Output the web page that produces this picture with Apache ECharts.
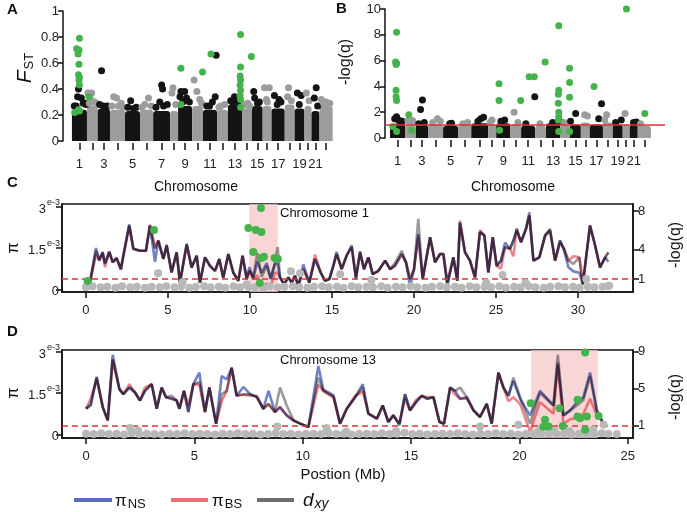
<!DOCTYPE html>
<html><head><meta charset="utf-8">
<script src="https://cdn.jsdelivr.net/npm/echarts@6/dist/echarts.min.js"></script>
<style>html,body{margin:0;padding:0;background:#fff}#c{width:687px;height:512px}</style>
</head><body><div id="c"></div>
<script>
// ===== Panels A & B : genome-wide scan =====
const chromosomes = [1,2,3,4,5,6,7,8,9,10,11,12,13,14,15,16,17,18,19,20,21,22];
const chromLengthMb = [32,23,26,32,32,28,36,17,30,23,30,23,30,21,23,19,28,21,21,15,17,28];
const chromTickLabels = ['1','3','5','7','9','11','13','15','17','19','21'];

// dense core of non-significant windows (height of the cloud) per chromosome
const fstBody = [0.24,0.27,0.25,0.24,0.23,0.24,0.23,0.23,0.27,0.27,0.24,0.24,0.28,0.25,0.27,0.27,0.25,0.28,0.25,0.27,0.23,0.27];
const lqBody  = [1.10,1.00,1.00,1.05,0.95,1.00,1.15,1.05,1.15,1.05,0.95,0.95,1.15,1.05,1.05,1.20,1.05,1.20,1.05,1.05,1.05,0.95];

// [chromosome, position within chromosome (Mb), value]
const fstPoints = [
 [1,14,0.40],[1,12,0.34],[1,20,0.33],[1,28,0.29],[1,30,0.28],[1,5,0.27],[1,24,0.29],[1,9,0.27],
 [2,2,0.37],[2,10,0.37],[2,8,0.32],[2,16,0.30],[2,20,0.29],[2,5,0.29],
 [3,8,0.54],[3,4,0.28],[3,12,0.27],[3,20,0.27],[3,16,0.26],
 [4,8,0.34],[4,14,0.33],[4,24,0.29],[4,4,0.27],[4,18,0.27],[4,28,0.26],
 [5,12,0.31],[5,24,0.26],[5,6,0.26],[5,18,0.25],
 [6,18,0.33],[6,10,0.28],[6,24,0.27],[6,4,0.26],
 [7,18,0.43],[7,20,0.40],[7,14,0.30],[7,22,0.27],[7,30,0.28],[7,6,0.26],
 [8,6,0.41],[8,4,0.37],[8,12,0.28],
 [9,6,0.38],[9,14,0.38],[9,18,0.33],[9,4,0.34],[9,24,0.30],[9,10,0.30],
 [10,4,0.47],[10,10,0.38],[10,16,0.32],[10,20,0.29],
 [11,28,0.66],[11,26,0.34],[11,20,0.30],[11,8,0.27],[11,14,0.27],
 [12,8,0.27],[12,16,0.28],[12,4,0.26],
 [13,14,0.34],[13,6,0.31],[13,22,0.30],[13,10,0.30],
 [14,12,0.29],[14,6,0.28],[14,16,0.27],
 [15,4,0.38],[15,6,0.33],[15,16,0.30],[15,12,0.29],
 [16,4,0.41],[16,14,0.41],[16,8,0.32],[16,10,0.30],
 [17,6,0.35],[17,16,0.32],[17,20,0.30],[17,12,0.28],
 [18,8,0.41],[18,6,0.34],[18,14,0.31],
 [19,6,0.37],[19,14,0.35],[19,10,0.28],
 [20,4,0.37],[20,10,0.31],
 [21,10,0.41],[21,6,0.33],[21,13,0.27],
 [22,4,0.32],[22,14,0.30],[22,22,0.29],[22,9,0.29]
];
const fstSignificant = [
 [1,16,0.79],[1,10,0.71],[1,15,0.70],[1,13,0.67],[1,15,0.59],[1,14,0.51],[1,16,0.49],[1,15,0.47],[1,16,0.43],[1,6,0.22],[1,14,0.24],[1,16,0.23],
 [2,4,0.34],[9,6,0.56],[9,6,0.28],[10,22,0.53],[11,17,0.67],
 [13,27,0.82],[13,27,0.57],[13,26,0.50],[13,27,0.47],[13,26,0.43],[13,27,0.39],[13,26,0.35],[13,27,0.32],[13,27,0.26],
 [14,20,0.65]
];
const lqPoints = [
 [1,10,1.5],[1,14,1.65],[1,18,1.4],[1,26,1.3],[1,22,1.2],
 [2,6,1.35],[2,14,1.2],[2,16,1.35],
 [3,14,2.95],[3,10,2.2],[3,18,1.2],[3,6,1.1],
 [4,20,1.5],[4,10,1.2],[4,26,1.3],
 [5,18,1.15],[5,14,1.1],
 [6,20,1.2],[6,10,1.1],
 [7,20,1.5],[7,26,1.6],[7,14,1.3],
 [8,8,1.4],[8,4,1.2],
 [9,10,1.3],[9,18,1.4],
 [10,8,2.0],[10,16,1.2],
 [11,29,3.2],[11,10,1.1],
 [12,10,1.1],
 [13,29,1.3],[13,14,1.2],
 [14,8,1.2],
 [15,1,1.3],[15,12,1.9],
 [16,8,1.8],[16,14,1.7],
 [17,25,2.65],[17,19,1.5],
 [18,8,1.8],[18,4,1.4],
 [19,6,1.2],[19,18,1.4],
 [20,5,1.9],
 [21,8,1.2],[21,14,1.25],
 [22,6,1.1]
];
const lqSignificant = [
 [1,14,8.2],[1,12,5.9],[1,14,5.8],[1,13,5.7],[1,13,3.7],[1,13,3.2],[1,14,2.9],[1,6,0.9],[1,14,0.5],
 [2,8,1.8],[2,14,0.6],
 [9,6,4.2],[9,6,2.9],[9,7,0.6],
 [10,22,2.9],
 [11,17,4.75],[11,28,4.75],
 [12,21,5.9],
 [13,27,8.7],[13,27,3.7],[13,26,3.4],[13,26,2.7],[13,27,2.0],[13,27,1.65],[13,26,1.4],[13,27,0.5],
 [14,20,5.4],[14,20,4.3],[14,20,3.15],[14,20,0.5],
 [17,9,4.0],
 [20,8,10.0],
 [22,15,1.9]
];
const qThresholdAB = 1;

// ===== Panel C : chromosome 1 =====
const posC = [0.04,0.24,0.61,0.81,1.02,1.16,1.42,1.63,1.87,2.13,
 2.28,2.64,2.89,3.29,3.66,3.90,4.21,4.41,4.72,4.92,
 5.22,5.53,5.73,6.14,6.44,6.75,6.95,7.26,7.56,7.87,
 8.13,8.37,8.68,8.98,9.29,9.55,9.80,9.96,10.20,10.45,
 10.71,11.02,11.26,11.52,11.69,11.83,12.07,12.34,12.54,12.74,
 12.95,13.25,13.62,13.96,14.31,14.57,14.84,15.08,15.28,15.59,
 15.89,16.20,16.46,16.71,16.95,17.22,17.48,17.83,18.24,18.54,
 18.84,19.25,19.51,19.76,20.00,20.26,20.53,20.98,21.28,21.59,
 21.79,22.03,22.40,22.64,22.80,23.11,23.41,23.72,24.02,24.29,
 24.53,24.80,25.04,25.30,25.55,25.85,26.06,26.26,26.52,26.83,
 27.03,27.28,27.64,27.99,28.29,28.60,28.90,29.15,29.41,29.72,
 30.08,30.29,30.73,31.04,31.34,31.65,31.85];
// values in units of 1e-3
const dxyC = [0.31,0.24,1.40,1.10,1.30,0.95,1.35,1.00,1.12,0.73,
 1.22,2.32,1.47,1.40,1.40,2.34,1.47,1.77,1.10,1.59,
 0.61,1.34,0.24,1.65,0.79,1.22,0.24,1.16,0.85,0.67,
 1.10,0.43,1.28,0.61,0.31,1.22,0.37,0.67,0.45,1.32,
 0.45,0.85,0.37,0.98,1.53,0.43,0.18,0.43,0.24,0.49,
 0.12,0.73,0.24,1.10,0.61,0.31,0.37,0.85,1.28,0.73,
 1.22,1.53,0.43,1.34,0.73,1.16,0.55,0.67,1.04,0.73,
 0.95,1.40,0.98,0.37,0.73,2.56,0.37,1.89,0.98,1.28,
 1.28,0.24,1.16,0.31,2.44,1.34,1.04,0.43,2.08,1.95,
 0.61,1.89,0.85,1.04,1.53,1.47,1.77,2.20,1.71,2.20,
 2.69,1.04,1.16,1.95,2.20,1.04,1.77,1.47,1.04,0.92,
 1.16,0.18,2.32,1.59,0.79,1.16,1.34];
const piNS_C = [0.31,0.24,1.50,1.04,1.36,0.92,1.37,0.98,1.15,0.73,
 1.22,2.36,1.47,1.40,1.40,2.30,1.00,1.77,1.10,1.62,
 0.61,1.34,0.22,1.65,0.79,1.22,0.24,1.16,0.85,0.67,
 1.10,0.40,1.28,0.61,0.31,1.22,0.37,0.80,0.40,1.00,
 0.60,0.95,0.40,0.90,0.95,0.43,0.18,0.43,0.24,0.49,
 0.12,0.90,0.24,1.10,0.61,0.31,0.37,0.85,1.36,0.73,
 1.22,1.60,0.35,1.38,0.73,1.16,0.55,0.67,1.04,0.73,
 0.85,1.28,0.98,0.10,0.73,2.00,0.37,1.89,0.98,1.28,
 1.28,0.10,1.16,0.31,2.40,1.34,1.04,0.43,2.08,1.95,
 0.61,1.89,0.85,1.04,1.70,1.47,1.77,2.14,1.71,2.20,
 2.80,1.04,1.16,1.95,2.14,1.04,1.77,1.40,0.80,0.65,
 0.60,0.18,2.32,1.59,0.79,1.16,1.00];
const piBS_C = [0.31,0.24,1.25,1.04,1.34,0.80,1.37,0.98,1.12,0.73,
 1.22,2.30,1.47,1.40,1.40,2.34,1.50,1.77,1.10,1.59,
 0.61,1.34,0.24,1.60,0.79,1.22,0.24,1.16,0.85,0.67,
 1.10,0.43,1.28,0.61,0.31,1.22,0.37,0.67,0.37,0.50,
 0.10,0.20,0.10,0.60,0.60,0.43,0.18,0.43,0.24,0.49,
 0.12,0.73,0.24,1.26,0.61,0.31,0.37,0.85,1.28,0.73,
 1.22,1.53,0.43,1.34,0.73,1.16,0.55,0.67,1.04,0.73,
 0.85,1.28,0.98,0.37,0.73,1.90,0.37,1.89,0.98,1.28,
 1.28,0.24,1.16,0.31,2.50,1.34,1.04,0.43,2.15,1.95,
 0.61,1.89,0.85,0.75,1.53,1.47,1.20,2.20,1.71,2.20,
 2.69,1.04,1.16,1.95,2.14,1.04,1.70,1.47,1.04,1.20,
 1.16,0.18,2.32,1.59,0.79,1.16,1.34];
// -log(q) per window: [Mb, value]
const sigC = [[0.1,0.8],[4.15,6.05],[10.67,8.3],[9.9,6.25],[10.35,6.05],[10.7,5.84],[10.2,3.78],[10.7,3.16],[10.85,3.3],[11.5,3.16],[11.7,3.06],[10.6,0.59]];
const nonSigC = [[4.4,1.6],[5.9,0.7],[9.8,0.45],[12.5,1.8],[13.05,1.6],[15.5,1.5],[17.4,0.9],[24.4,0.6],[25.4,1.4],[26.8,0.6],[30.5,1.0],[31.8,0.25],
 [0.0,0.15],[0.4,0.25],[0.9,0.15],[1.3,0.2],[1.8,0.1],[2.2,0.25],[2.7,0.15],[3.1,0.2],[3.6,0.1],[4.0,0.2],[4.5,0.15],[4.9,0.25],[5.4,0.15],[5.8,0.2],
 [6.3,0.1],[6.7,0.2],[7.2,0.25],[7.6,0.15],[8.1,0.2],[8.5,0.1],[9.0,0.25],[9.4,0.15],[9.9,0.2],[10.3,0.15],[10.8,0.1],[11.2,0.25],[11.7,0.15],[12.1,0.2],
 [12.6,0.25],[13.0,0.15],[13.5,0.1],[13.9,0.2],[14.4,0.25],[14.8,0.15],[15.3,0.2],[15.7,0.1],[16.2,0.25],[16.6,0.15],[17.1,0.2],[17.5,0.15],[18.0,0.25],
 [18.4,0.1],[18.9,0.2],[19.3,0.15],[19.8,0.25],[20.2,0.15],[20.7,0.1],[21.1,0.2],[21.6,0.25],[22.0,0.15],[22.5,0.2],[22.9,0.1],[23.4,0.25],[23.8,0.15],
 [24.3,0.2],[24.7,0.15],[25.2,0.25],[25.6,0.1],[26.1,0.2],[26.5,0.15],[27.0,0.25],[27.4,0.15],[27.9,0.1],[28.3,0.2],[28.8,0.25],[29.2,0.15],[29.7,0.2],
 [30.1,0.1],[30.6,0.2],[31.0,0.15],[31.5,0.2],[31.9,0.3]];
const highlightC = [9.95, 11.7];
const posTicksC = [0,5,10,15,20,25,30];

// ===== Panel D : chromosome 13 =====
const posD = [0.00,0.22,0.49,0.77,1.00,1.23,1.54,1.72,2.00,2.26,
 2.49,2.72,3.03,3.26,3.49,3.69,3.95,4.18,4.31,4.52,
 4.72,4.95,5.23,5.49,5.69,6.00,6.26,6.49,6.72,6.95,
 7.26,7.57,7.88,8.18,8.42,8.72,8.95,9.26,9.57,9.88,
 10.26,10.72,10.95,11.42,11.72,12.03,12.42,12.77,13.03,13.42,
 13.69,13.95,14.18,14.46,14.72,14.95,15.23,15.49,15.75,16.03,
 16.31,16.52,16.80,17.03,17.26,17.57,17.88,18.18,18.49,18.72,
 19.03,19.26,19.49,19.72,20.03,20.49,20.95,21.57,21.77,22.03,
 22.34,22.65,22.95,23.26,23.57,23.88];
const dxyD = [0.93,1.11,2.08,0.99,0.51,2.71,1.64,1.46,1.70,1.52,
 1.23,1.58,1.82,0.93,1.70,1.35,1.40,1.23,0.93,1.58,
 0.81,1.82,1.90,0.81,1.70,0.39,1.46,1.58,2.42,1.40,
 1.45,1.46,1.35,0.93,1.10,0.81,1.70,1.05,0.51,0.39,
 0.27,2.06,1.58,1.35,0.39,0.93,1.35,1.70,0.75,0.57,
 1.05,0.45,0.69,0.39,1.46,0.87,1.17,1.40,1.29,1.35,
 0.45,0.39,1.70,1.58,1.70,1.35,0.87,0.63,1.11,0.39,
 2.24,1.70,1.40,2.06,1.35,0.39,1.50,1.05,2.89,0.69,
 0.87,1.05,1.25,2.10,0.87,0.39];
const piNS_D = [0.93,1.05,2.08,0.99,0.51,2.89,1.64,1.46,1.70,1.52,
 1.23,1.58,1.82,0.93,1.70,1.35,1.29,1.23,0.93,1.58,
 0.81,1.82,2.24,0.81,1.70,0.39,2.12,1.99,2.42,1.40,
 1.72,1.46,1.35,0.93,1.58,0.81,0.99,0.69,0.51,0.39,
 0.27,2.48,1.62,1.42,0.39,0.93,1.35,1.82,0.75,0.57,
 1.05,0.45,0.69,0.33,1.46,0.87,1.17,1.40,1.29,1.35,
 0.45,0.39,1.70,1.58,1.29,1.35,0.87,0.63,1.11,0.39,
 2.24,1.70,1.40,1.94,1.29,0.69,1.58,1.05,2.60,0.69,
 0.87,1.17,1.35,2.24,0.87,0.39];
const piBS_D = [0.93,1.30,2.00,0.99,0.51,2.71,1.64,1.46,1.82,1.52,
 1.23,1.70,1.82,0.93,1.70,1.35,1.29,1.23,0.93,1.58,
 1.05,1.82,1.80,0.81,1.70,0.39,1.20,1.58,2.42,1.40,
 1.45,1.40,1.40,0.93,1.10,0.81,0.99,0.69,0.51,0.39,
 0.27,1.80,1.58,1.35,0.39,0.93,1.40,1.55,0.75,0.57,
 1.05,0.45,0.69,0.39,1.30,0.87,1.25,1.40,1.35,1.35,
 0.45,0.39,1.70,1.45,1.29,1.30,0.87,0.63,1.11,0.39,
 2.24,1.70,1.20,1.35,1.10,0.10,1.17,0.75,2.50,0.39,
 0.55,0.60,0.75,1.29,0.70,0.39];
const sigD = [[23.03,8.9],[20.52,3.44],[21.18,1.65],[21.34,0.92],[21.85,2.9],[22.0,0.98],[22.68,3.8],[22.68,2.0],[22.8,1.8],[23.11,2.0],[23.65,2.05],[23.03,0.58],[21.1,0.9]];
const nonSigD = [[2.03,0.75],[2.4,0.5],[8.83,0.93],[11.1,0.75],[18.18,0.93],[19.95,1.1],[23.88,1.1],[24.49,0.1],[20.9,0.4],[21.6,0.5],[22.3,0.4],[23.4,0.6],[14.3,0.4],[12.0,0.35],
 [0.0,0.15],[0.35,0.1],[0.7,0.2],[1.05,0.1],[1.4,0.15],[1.75,0.05],[2.1,0.2],[2.45,0.1],[2.8,0.15],[3.15,0.1],[3.5,0.05],[3.85,0.15],[4.2,0.1],[4.55,0.2],
 [4.9,0.1],[5.25,0.15],[5.6,0.1],[5.95,0.05],[6.3,0.15],[6.65,0.1],[7.0,0.2],[7.35,0.1],[7.7,0.15],[8.05,0.05],[8.4,0.1],[8.75,0.2],[9.1,0.1],[9.45,0.15],
 [9.8,0.05],[10.15,0.1],[10.5,0.15],[10.85,0.1],[11.2,0.2],[11.55,0.1],[11.9,0.15],[12.25,0.05],[12.6,0.1],[12.95,0.15],[13.3,0.1],[13.65,0.2],[14.0,0.1],
 [14.35,0.15],[14.7,0.25],[15.05,0.1],[15.4,0.15],[15.75,0.05],[16.1,0.1],[16.45,0.15],[16.8,0.1],[17.15,0.2],[17.5,0.1],[17.85,0.05],[18.2,0.15],[18.55,0.1],
 [18.9,0.2],[19.25,0.1],[19.6,0.15],[19.95,0.05],[20.3,0.1],[20.65,0.15],[21.0,0.1],[21.35,0.2],[21.7,0.1],[22.05,0.15],[22.4,0.05],[22.75,0.1],[23.1,0.15],
 [23.45,0.1],[23.8,0.2],[24.1,0.15]];
const highlightD = [20.54, 23.61];
const posTicksD = [0,5,10,15,20,25];
const qThresholdCD = 1;

// ===== rendering =====
const FONT = '"Liberation Sans", Arial, sans-serif';
const BLACK = '#141414', GRAY = '#9c9c9c', GREEN = '#45b34c', LIGHTGRAY = '#b8b8b8';
const COL_NS = '#5b6cbc', COL_BS = '#ee6e78', COL_DXY = '#8a8a8a';

const starts = []; let acc = 0;
chromLengthMb.forEach(l => { starts.push(acc); acc += l; });
const centers = starts.map((s, i) => s + chromLengthMb[i] / 2);
const labelCenters = chromTickLabels.map(t => centers[chromosomes.indexOf(+t)]);
const chromFmt = v => { const i = centers.findIndex(c => Math.abs(c - v) < 1e-6); return i >= 0 ? String(chromosomes[i]) : ''; };

const toXY = arr => arr.map(([c, p, v]) => [starts[c - 1] + p, v, c]);
const bodyData = body => chromosomes.map((c, i) => [starts[i], starts[i] + chromLengthMb[i], body[i], c]);
const dotColor = p => (p.data[2] % 2 === 1 ? BLACK : GRAY);
const zip = (xs, ys) => xs.map((x, i) => [x, ys[i]]);

function bodySeries(xi, yi, body) {
  return {
    type: 'custom', xAxisIndex: xi, yAxisIndex: yi, data: bodyData(body), encode: {x: [0, 1], y: 2},
    renderItem: (params, api) => {
      const p0 = api.coord([api.value(0), 0]);
      const p1 = api.coord([api.value(1), api.value(2)]);
      return {type: 'rect', shape: {x: p0[0], y: p1[1], width: p1[0] - p0[0], height: p0[1] - p1[1], r: [3, 3, 0, 0]},
        style: {fill: api.value(3) % 2 === 1 ? BLACK : GRAY}};
    }
  };
}
function chromAxis(gi, min, max) {
  return {type: 'value', gridIndex: gi, min, max, offset: 2,
    axisLine: {show: false, onZero: false}, splitLine: {show: false},
    axisTick: {show: true, customValues: centers, length: 7, lineStyle: {color: '#111', width: 1.5}},
    axisLabel: {customValues: labelCenters, formatter: chromFmt, margin: 15, fontSize: 13, color: '#222', fontFamily: FONT}};
}
function posAxis(gi, min, max, ticks) {
  return {type: 'value', gridIndex: gi, min, max,
    axisLine: {show: true, onZero: false, lineStyle: {color: '#111', width: 1.5}}, splitLine: {show: false},
    axisTick: {show: true, customValues: ticks, length: 6, lineStyle: {color: '#111', width: 1.5}},
    axisLabel: {customValues: ticks, margin: 12, fontSize: 13, color: '#222', fontFamily: FONT}};
}
const piRich = {n: {fontSize: 13, color: '#222', fontFamily: FONT, padding: [5, 1, 0, 0]}, e: {fontSize: 9, color: '#222', fontFamily: FONT, verticalAlign: 'top'}};
function piAxis(gi, min, max) {
  return {type: 'value', gridIndex: gi, min, max,
    axisLine: {show: true, onZero: false, lineStyle: {color: '#111', width: 1.5}}, splitLine: {show: false},
    axisTick: {show: true, customValues: [0, 1.5, 3], length: 6, lineStyle: {color: '#111', width: 1.5}},
    axisLabel: {customValues: [0, 1.5, 3], margin: 2, formatter: v => v === 0 ? '{n|0}' : '{n|' + v + '}{e|e-3}', rich: piRich}};
}
function lqAxis(gi, min, max, ticks) {
  return {type: 'value', gridIndex: gi, min, max, position: 'right',
    axisLine: {show: true, onZero: false, lineStyle: {color: '#111', width: 1.5}}, splitLine: {show: false},
    axisTick: {show: true, customValues: ticks, length: 6, lineStyle: {color: '#111', width: 1.5}},
    axisLabel: {customValues: ticks, margin: 5, fontSize: 13, color: '#222', fontFamily: FONT}};
}
function leftAxis(gi, min, max, interval) {
  return {type: 'value', gridIndex: gi, min, max, interval,
    axisLine: {show: true, onZero: false, lineStyle: {color: '#111', width: 1.5}}, splitLine: {show: false},
    axisTick: {show: true, length: 5, lineStyle: {color: '#111', width: 1.5}},
    axisLabel: {margin: 4, fontSize: 13, color: '#222', fontFamily: FONT}};
}
function lineSeries(name, color, xi, yi, xs, ys, extra) {
  return Object.assign({type: 'line', name, color, xAxisIndex: xi, yAxisIndex: yi, data: zip(xs, ys),
    showSymbol: false, symbol: 'none', blendMode: 'multiply', z: 3,
    lineStyle: {color, width: 2.6, opacity: 0.85}}, extra || {});
}
function dotSeries(xi, yi, data, color, size, z, extra) {
  return Object.assign({type: 'scatter', xAxisIndex: xi, yAxisIndex: yi, data, symbolSize: size, z,
    itemStyle: {color, opacity: 1}}, extra || {});
}
const shade = r => ({silent: true, itemStyle: {color: 'rgba(247,200,200,0.75)'}, data: [[{xAxis: r[0]}, {xAxis: r[1]}]]});
const dashed = v => ({silent: true, symbol: 'none', label: {show: false},
  lineStyle: {color: '#d8353a', type: [6, 4], width: 1.5}, data: [{yAxis: v}]});

const chart = echarts.init(document.getElementById('c'), null, {renderer: 'canvas'});
const T = (text, x, y, size, extra) => Object.assign({type: 'text', x, y, style: Object.assign({text, fontSize: size, fontFamily: FONT, fill: '#111'}, (extra && extra.style) || {})}, extra && extra.el || {});

chart.setOption({
  animation: false,
  backgroundColor: '#fff',
  textStyle: {fontFamily: FONT},
  grid: [
    {left: 63, top: 11, width: 272, height: 130},
    {left: 385, top: 9, width: 280, height: 129},
    {left: 62, top: 204, width: 571, height: 88, show: true, borderColor: '#111', borderWidth: 1.5, backgroundColor: 'transparent'},
    {left: 62, top: 350, width: 571, height: 88, show: true, borderColor: '#111', borderWidth: 1.5, backgroundColor: 'transparent'}
  ],
  xAxis: [chromAxis(0, -19, 560), chromAxis(1, -10.6, 585), posAxis(2, -1.46, 33.35, posTicksC), posAxis(3, -1.11, 25.24, posTicksD)],
  yAxis: [leftAxis(0, 0, 1, 0.2), leftAxis(1, 0, 10, 2),
    piAxis(2, -0.1, 3.1), lqAxis(2, -0.34, 8.72, [1, 4, 8]),
    piAxis(3, -0.13, 3.06), lqAxis(3, -0.32, 9.18, [1, 5, 9])],
  series: [
    bodySeries(0, 0, fstBody),
    dotSeries(0, 0, toXY(fstPoints), dotColor, 7, 3),
    dotSeries(0, 0, toXY(fstSignificant), GREEN, 7, 4),
    bodySeries(1, 1, lqBody),
    dotSeries(1, 1, toXY(lqPoints), dotColor, 7, 3),
    dotSeries(1, 1, toXY(lqSignificant), GREEN, 7, 4, {markLine: {silent: true, symbol: 'none', label: {show: false}, lineStyle: {color: '#e0303a', type: 'solid', width: 1.6}, data: [{yAxis: qThresholdAB}]}}),
    // C
    lineSeries('dxy', COL_DXY, 2, 2, posC, dxyC, {markArea: shade(highlightC)}),
    lineSeries('piBS', COL_BS, 2, 2, posC, piBS_C),
    lineSeries('piNS', COL_NS, 2, 2, posC, piNS_C),
    dotSeries(2, 3, nonSigC, LIGHTGRAY, 8, 5, {markLine: dashed(qThresholdCD)}),
    dotSeries(2, 3, sigC, GREEN, 8, 6),
    // D
    lineSeries('dxy', COL_DXY, 3, 4, posD, dxyD, {markArea: shade(highlightD)}),
    lineSeries('piBS', COL_BS, 3, 4, posD, piBS_D),
    lineSeries('piNS', COL_NS, 3, 4, posD, piNS_D),
    dotSeries(3, 5, nonSigD, LIGHTGRAY, 8, 5, {markLine: dashed(qThresholdCD)}),
    dotSeries(3, 5, sigD, GREEN, 8, 6)
  ],
  graphic: [
    T('A', 7, 2, 15, {style: {fontWeight: 'bold'}}),
    T('B', 336, 1, 15, {style: {fontWeight: 'bold'}}),
    T('C', 7, 175, 15, {style: {fontWeight: 'bold'}}),
    T('D', 7, 324, 15, {style: {fontWeight: 'bold'}}),
    {type: 'text', x: 25, y: 68, rotation: Math.PI / 2, style: {text: '{f|F}{s|ST}', align: 'center', verticalAlign: 'middle',
      rich: {f: {fontSize: 21, fontStyle: 'italic', fontFamily: FONT, fill: '#111'}, s: {fontSize: 13, fontFamily: FONT, fill: '#111', verticalAlign: 'bottom', padding: [6, 0, 0, 1]}}}},
    {type: 'text', x: 346, y: 62, rotation: Math.PI / 2, style: {text: '-log(q)', fontSize: 16, fontFamily: FONT, fill: '#111', align: 'center', verticalAlign: 'middle'}},
    T('Chromosome', 196, 187, 14, {style: {align: 'center', verticalAlign: 'middle'}}),
    T('Chromosome', 513, 187, 14, {style: {align: 'center', verticalAlign: 'middle'}}),
    T('Chromosome 1', 280, 213, 13, {style: {verticalAlign: 'middle'}}),
    T('Chromosome 13', 280, 360, 13, {style: {verticalAlign: 'middle'}}),
    {type: 'text', x: 14, y: 248, rotation: Math.PI / 2, style: {text: 'π', fontSize: 16, fontFamily: FONT, fill: '#111', align: 'center', verticalAlign: 'middle'}},
    {type: 'text', x: 14, y: 393, rotation: Math.PI / 2, style: {text: 'π', fontSize: 16, fontFamily: FONT, fill: '#111', align: 'center', verticalAlign: 'middle'}},
    {type: 'text', x: 676, y: 245, rotation: Math.PI / 2, style: {text: '-log(q)', fontSize: 16, fontFamily: FONT, fill: '#111', align: 'center', verticalAlign: 'middle'}},
    {type: 'text', x: 676, y: 397, rotation: Math.PI / 2, style: {text: '-log(q)', fontSize: 16, fontFamily: FONT, fill: '#111', align: 'center', verticalAlign: 'middle'}},
    T('Postion (Mb)', 343, 475, 15, {style: {align: 'center', verticalAlign: 'middle'}}),
    // legend
    {type: 'line', shape: {x1: 74, y1: 500, x2: 112, y2: 500}, style: {stroke: COL_NS, lineWidth: 4}},
    {type: 'line', shape: {x1: 171, y1: 500, x2: 208, y2: 500}, style: {stroke: COL_BS, lineWidth: 4}},
    {type: 'line', shape: {x1: 257, y1: 500, x2: 294, y2: 500}, style: {stroke: '#6e6e6e', lineWidth: 4}},
    {type: 'text', x: 115, y: 501, style: {text: '{p|π}{s|NS}', verticalAlign: 'middle',
      rich: {p: {fontSize: 17, fontFamily: FONT, fill: '#111'}, s: {fontSize: 13, fontFamily: FONT, fill: '#111', verticalAlign: 'bottom', padding: [7, 0, 0, 1]}}}},
    {type: 'text', x: 212, y: 501, style: {text: '{p|π}{s|BS}', verticalAlign: 'middle',
      rich: {p: {fontSize: 17, fontFamily: FONT, fill: '#111'}, s: {fontSize: 13, fontFamily: FONT, fill: '#111', verticalAlign: 'bottom', padding: [7, 0, 0, 1]}}}},
    {type: 'text', x: 303, y: 501, style: {text: '{d|d}{s|xy}', verticalAlign: 'middle',
      rich: {d: {fontSize: 19, fontStyle: 'italic', fontFamily: FONT, fill: '#111'}, s: {fontSize: 14, fontStyle: 'italic', fontFamily: FONT, fill: '#111', verticalAlign: 'bottom', padding: [7, 0, 0, 1]}}}}
  ]
});
</script></body></html>
